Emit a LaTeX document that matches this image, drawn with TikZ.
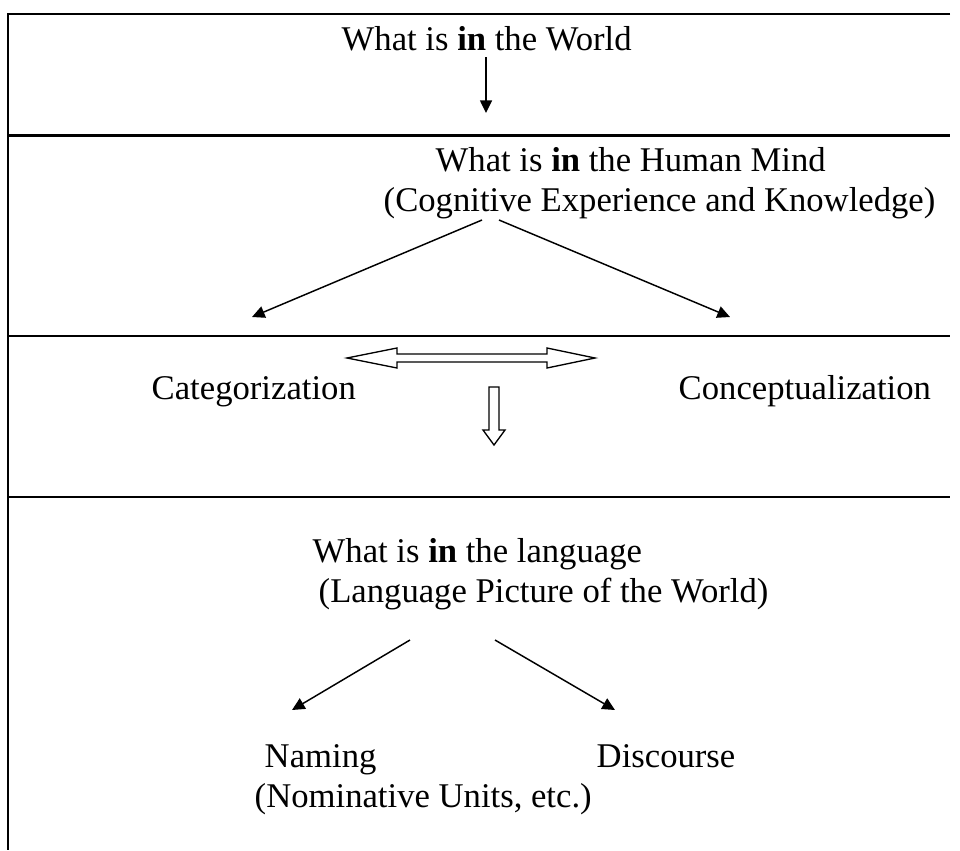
\documentclass[tikz,border=0pt]{standalone}
\usepackage{fontspec}
\setmainfont{Liberation Serif}
\usetikzlibrary{arrows.meta}

\begin{document}
\begin{tikzpicture}[x=0.75pt, y=-0.75pt, line width=1.1pt, >={Triangle[length=9.5pt,width=9pt]},
  txt/.style={font=\fontsize{26}{30}\selectfont, inner sep=0pt, anchor=base west},
  rule/.style={line width=1.6pt},
  hollow/.style={line width=1pt, line join=miter}]
  \useasboundingbox (0,0) rectangle (960,850);
  % frame
  \draw[rule] (950,14) -- (8,14) -- (8,850);
  \draw[rule] (8,135.5) -- (950,135.5);
  \draw[rule] (8,336) -- (950,336);
  \draw[rule] (8,497) -- (950,497);
  % texts
  \node[txt] (world) at (341,50) {What is \textbf{in} the World};
  \node[txt] (mind) at (435,171) {What is \textbf{in} the Human Mind};
  \node[txt] (mindsub) at (383,211) {(Cognitive Experience and Knowledge)};
  \node[txt] (categ) at (151,399) {Categorization};
  \node[txt] (concept) at (678,399) {Conceptualization};
  \node[txt] (lang) at (312,562) {What is \textbf{in} the language};
  \node[txt] (langsub) at (318,602) {(Language Picture of the World)};
  \node[txt] (naming) at (264,767) {Naming};
  \node[txt] (discourse) at (596,767) {Discourse};
  \node[txt] (nomunits) at (254,807) {(Nominative Units, etc.)};
  % arrow ends
  \coordinate (w1) at (486,57);
  \coordinate (w2) at (486,113);
  \coordinate (m1) at (482,220);
  \coordinate (m2) at (499,220);
  \coordinate (c1) at (252,317);
  \coordinate (c2) at (730,317);
  \coordinate (l1) at (410,640);
  \coordinate (l2) at (495,640);
  \coordinate (n1) at (292,710);
  \coordinate (n2) at (615,710);
  \draw[->] (w1) -- (w2);
  \draw[->] (m1) -- (c1);
  \draw[->] (m2) -- (c2);
  \draw[->] (l1) -- (n1);
  \draw[->] (l2) -- (n2);
  % hollow arrows
  \draw[hollow] (347,358) -- (397,348) -- (397,354) -- (547,354) -- (547,348) -- (595,358)
    -- (547,368) -- (547,362) -- (397,362) -- (397,368) -- cycle;
  \draw[hollow] (489,387) -- (499,387) -- (499,430) -- (505,430) -- (494,445)
    -- (483,430) -- (489,430) -- cycle;
\end{tikzpicture}
\end{document}
